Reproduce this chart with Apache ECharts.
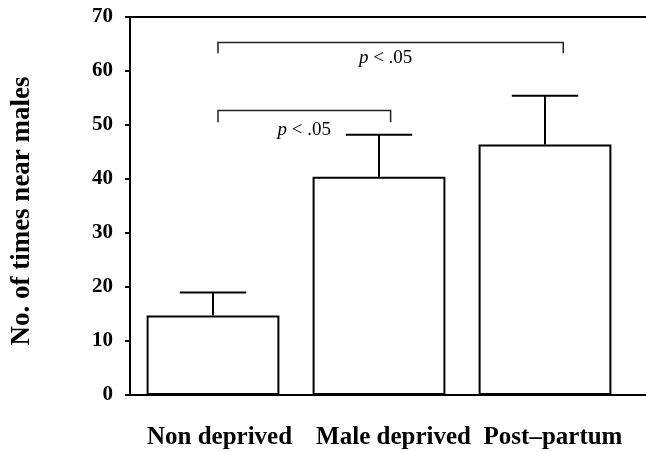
<!DOCTYPE html>
<html>
<head>
<meta charset="utf-8">
<script src="https://cdn.jsdelivr.net/npm/echarts@6/dist/echarts.min.js"></script>
<style>html,body{margin:0;padding:0;background:#fff}#c{width:646px;height:452px}</style>
</head>
<body>
<div id="c"></div>
<script>
// ---- data ----
var categories = ['Non deprived', 'Male deprived', 'Post\u2013partum'];
var means = [14.7, 40.4, 46.4];
var errUpper = [19.0, 48.2, 55.4];
var yTicks = [0, 10, 20, 30, 40, 50, 60, 70];
// significance brackets: from category, to category, bar height, leg end
var brFrom = [0, 0];
var brTo = [1, 2];
var brTop = [52.7, 65.3];
var brLeg = [50.5, 63.3];
var brText = ['p < .05', 'p < .05'];
var brTextVal = [49.0, 62.4];

var serif = '"Liberation Serif", "Times New Roman", serif';
var chart = echarts.init(document.getElementById('c'), null, {renderer: 'canvas'});

var errData = categories.map(function (c, i) { return [i, means[i], errUpper[i]]; });
var brData = brFrom.map(function (f, i) { return [f, brTo[i], brTop[i], brLeg[i], brTextVal[i], i]; });

var labelStyle = {color: '#000', fontFamily: serif, fontWeight: 'bold', fontSize: 25};
function padStyle(p) { return Object.assign({padding: [0, 0, 0, p]}, labelStyle); }

chart.setOption({
  animation: false,
  backgroundColor: '#fff',
  grid: [
    {left: 130, right: 0, top: 17, bottom: 57, outerBoundsMode: 'none', containLabel: false},
    {left: 130, right: 18, top: 17, bottom: 57, outerBoundsMode: 'none', containLabel: false}
  ],
  xAxis: [
    {gridIndex: 0, type: 'value', min: 0, max: 1, position: 'bottom',
     axisLine: {show: true, lineStyle: {color: '#000', width: 2}},
     axisTick: {show: false}, axisLabel: {show: false}, splitLine: {show: false}},
    {gridIndex: 0, type: 'value', min: 0, max: 1, position: 'top',
     axisLine: {show: true, lineStyle: {color: '#000', width: 2}},
     axisTick: {show: false}, axisLabel: {show: false}, splitLine: {show: false}},
    {gridIndex: 1, type: 'category', data: categories,
     axisLine: {show: false}, axisTick: {show: false},
     axisLabel: Object.assign({margin: 30, interval: 0,
       formatter: function (v, i) { return '{n' + i + '|' + v + '}'; },
       rich: {n0: padStyle(13), n1: padStyle(29), n2: padStyle(16)}}, labelStyle)}
  ],
  yAxis: [
    {gridIndex: 0, type: 'value', min: 0, max: 70, show: false},
    {gridIndex: 1, type: 'value', min: 0, max: 70, interval: 10,
     name: 'No. of times near males', nameLocation: 'middle', nameGap: 94,
     nameTextStyle: {color: '#000', fontFamily: serif, fontWeight: 'bold', fontSize: 27,
                     padding: [0, 10, 0, 0]},
     axisLine: {show: true, lineStyle: {color: '#000', width: 2}},
     axisTick: {show: true, inside: false, length: 5, lineStyle: {color: '#000', width: 2}},
     axisLabel: {color: '#000', fontFamily: serif, fontWeight: 'bold', fontSize: 21, margin: 17,
                 formatter: function (v) { return yTicks.indexOf(v) >= 0 ? String(v) : ''; }},
     splitLine: {show: false}}
  ],
  series: [
    {type: 'bar', xAxisIndex: 2, yAxisIndex: 1, data: means, barWidth: '80%',
     itemStyle: {color: '#fff', borderColor: '#000', borderWidth: 2}, z: 2},
    {type: 'custom', xAxisIndex: 2, yAxisIndex: 1, data: errData, z: 3,
     renderItem: function (params, api) {
       var top = api.coord([api.value(0), api.value(1)]);
       var cap = api.coord([api.value(0), api.value(2)]);
       var half = api.size([1, 0])[0] * 0.2;
       var st = {stroke: '#000', lineWidth: 2};
       return {type: 'group', children: [
         {type: 'line', shape: {x1: top[0], y1: top[1], x2: cap[0], y2: cap[1]}, style: st},
         {type: 'line', shape: {x1: cap[0] - half, y1: cap[1], x2: cap[0] + half, y2: cap[1]}, style: st}
       ]};
     }},
    {type: 'custom', xAxisIndex: 2, yAxisIndex: 1, data: brData, z: 3,
     renderItem: function (params, api) {
       var band = api.size([1, 0])[0];
       var idx = api.value(5);
       var f = api.value(0), t = api.value(1);
       var a = api.coord([f, api.value(2)]);
       var b = api.coord([t, api.value(2)]);
       var legY = api.coord([f, api.value(3)])[1];
       var x1 = a[0] + band * 0.03;
       var x2 = b[0] + band * (0.07 + 0.04 * (t - f - 1));
       var ty = api.coord([f, api.value(4)])[1];
       var tx = (a[0] + b[0]) / 2 + band * (idx === 0 ? 0.05 : 0.04);
       var st = {stroke: '#222', lineWidth: 1.5, fill: null};
       return {type: 'group', children: [
         {type: 'polyline', shape: {points: [[x1, legY], [x1, a[1]], [x2, a[1]], [x2, legY]]}, style: st},
         {type: 'text', x: tx, y: ty, style: {
           text: '{i|p} < .05', align: 'center', verticalAlign: 'middle',
           fontFamily: serif, fontSize: 19, fill: '#000',
           rich: {i: {fontStyle: 'italic', fontFamily: serif, fontSize: 19, fill: '#000'}}
         }}
       ]};
     }}
  ]
});
</script>
</body>
</html>
